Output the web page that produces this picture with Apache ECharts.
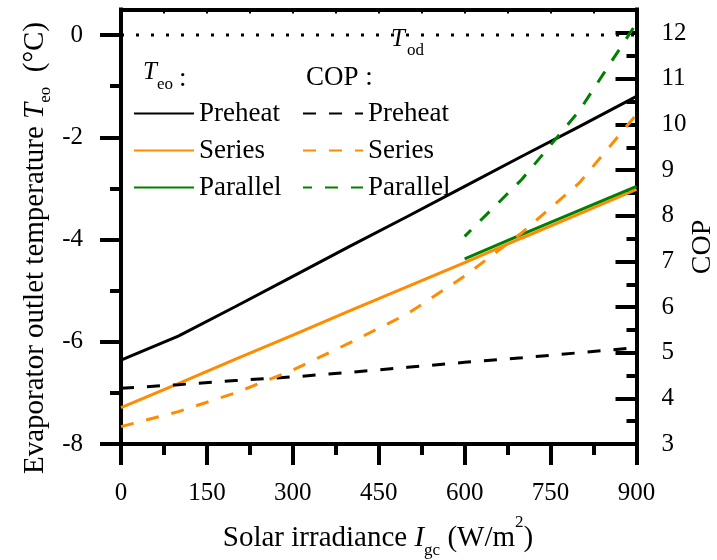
<!DOCTYPE html>
<html><head><meta charset="utf-8">
<script src="https://cdn.jsdelivr.net/npm/echarts@6/dist/echarts.min.js"></script>
<style>html,body{margin:0;padding:0;background:#fff}#c{width:717px;height:560px}</style>
</head><body><div id="c"></div>
<script>
// ---- data ----
const irradiance = [0, 100, 200, 300, 400, 500, 600, 700, 800, 900];
const irradianceParallel = [600, 700, 800, 900];
const teoPreheat = [-6.36, -5.89, -5.31, -4.72, -4.13, -3.55, -2.96, -2.37, -1.79, -1.20];
const teoSeries = [-7.29, -6.82, -6.34, -5.87, -5.39, -4.92, -4.45, -3.97, -3.50, -3.02];
const teoParallel = [-4.38, -3.90, -3.43, -2.96];
const copPreheat = [4.22, 4.30, 4.39, 4.47, 4.57, 4.68, 4.79, 4.89, 5.00, 5.11];
const copSeries = [3.38, 3.71, 4.12, 4.62, 5.22, 5.85, 6.68, 7.63, 8.72, 10.22];
const copParallel = [7.55, 8.80, 10.30, 12.22];
const todX = [0, 900];
const todY = [0, 0];
const teoMajorTicks = [-8, -6, -4, -2, 0];
const teoMinorTicks = [-7, -5, -3, -1];
const copMajorTicks = [3, 4, 5, 6, 7, 8, 9, 10, 11, 12];
const copMinorTicks = [3.5, 4.5, 5.5, 6.5, 7.5, 8.5, 9.5, 10.5, 11.5];

const F = '"Liberation Serif", "Times New Roman", serif';
const BLACK = '#000000', ORANGE = '#ff8c00', GREEN = '#008000';
const pairs = (xs, ys) => xs.map((x, i) => [x, ys[i]]);

const axisLineStyle = { color: BLACK, width: 4, cap: 'square' };
function yAxisBase(pos, min, max) {
  return {
    type: 'value', position: pos, min: min, max: max,
    axisLine: { show: true, onZero: false, lineStyle: axisLineStyle },
    splitLine: { show: false }, minorTick: { show: false }
  };
}

const chart = echarts.init(document.getElementById('c'), null, { renderer: 'canvas' });

const lineSeries = (name, xs, ys, yIdx, color, dashed, offset) => ({
  name: name, type: 'line', xAxisIndex: 0, yAxisIndex: yIdx,
  data: pairs(xs, ys), symbol: 'none', smooth: false,
  lineStyle: { color: color, width: 3, type: dashed ? [13, 13] : 'solid', dashOffset: offset || 0 },
  itemStyle: { color: color }, emphasis: { disabled: true }
});

const sub = { fontFamily: F, fontSize: 17, color: BLACK, padding: [25, 0, 0, 0] };
const main = { fontFamily: F, fontSize: 29, color: BLACK };
const ital = { fontFamily: F, fontSize: 29, fontStyle: 'italic', color: BLACK };
const sup = { fontFamily: F, fontSize: 17, color: BLACK, padding: [0, 0, 32, 0] };

const legendCommon = {
  orient: 'vertical', top: 100, itemWidth: 60, itemHeight: 14, itemGap: 10, padding: 0,
  selectedMode: false, formatter: n => n.slice(2),
  itemStyle: { opacity: 0 },
  textStyle: { fontFamily: F, fontSize: 27, color: BLACK, lineHeight: 24 }
};

chart.setOption({
  animation: false,
  backgroundColor: '#ffffff',
  grid: { left: 121, right: 80.5, top: 9.5, bottom: 116, containLabel: false, outerBoundsMode: 'none' },
  xAxis: [
    {
      type: 'value', position: 'bottom', min: 0, max: 900, interval: 150,
      axisLine: { show: true, onZero: false, lineStyle: axisLineStyle },
      axisTick: { show: true, inside: false, length: 21, lineStyle: { color: BLACK, width: 4 } },
      minorTick: { show: true, splitNumber: 2, length: 11, lineStyle: { color: BLACK, width: 4 } },
      axisLabel: { show: true, margin: 37, fontFamily: F, fontSize: 25, color: BLACK },
      splitLine: { show: false }, minorSplitLine: { show: false }
    },
    {
      type: 'value', position: 'top', min: 0, max: 900, interval: 75,
      axisLine: { show: true, onZero: false, lineStyle: axisLineStyle },
      axisTick: { show: true, inside: true, length: 4, lineStyle: { color: BLACK, width: 2 } },
      axisLabel: { show: false }, splitLine: { show: false }
    }
  ],
  yAxis: [
    Object.assign(yAxisBase('left', -8, 0.5), {
      axisTick: { show: true, inside: false, length: 21, customValues: teoMajorTicks, lineStyle: { color: BLACK, width: 4 } },
      axisLabel: { show: true, margin: 38, customValues: teoMajorTicks, fontFamily: F, fontSize: 25, color: BLACK }
    }),
    Object.assign(yAxisBase('left', -8, 0.5), {
      axisLine: { show: false, onZero: false },
      axisTick: { show: true, inside: false, length: 11, customValues: teoMinorTicks, lineStyle: { color: BLACK, width: 4 } },
      axisLabel: { show: false }
    }),
    Object.assign(yAxisBase('right', 3, 12.52), {
      axisTick: { show: true, inside: true, length: 21, customValues: copMajorTicks, lineStyle: { color: BLACK, width: 4 } },
      axisLabel: { show: true, margin: 25, customValues: copMajorTicks, fontFamily: F, fontSize: 25, color: BLACK }
    }),
    Object.assign(yAxisBase('right', 3, 12.52), {
      axisLine: { show: false, onZero: false },
      axisTick: { show: true, inside: true, length: 10, customValues: copMinorTicks, lineStyle: { color: BLACK, width: 4 } },
      axisLabel: { show: false }
    })
  ],
  legend: [
    Object.assign({}, legendCommon, { left: 133, data: ['T-Preheat', 'T-Series', 'T-Parallel'] }),
    Object.assign({}, legendCommon, { left: 302, data: ['C-Preheat', 'C-Series', 'C-Parallel'] })
  ],
  series: [
    {
      name: 'Tod', type: 'line', xAxisIndex: 0, yAxisIndex: 0, data: pairs(todX, todY), symbol: 'none',
      lineStyle: { color: BLACK, width: 3, type: [3, 12] }, emphasis: { disabled: true }, silent: true
    },
    lineSeries('T-Preheat', irradiance, teoPreheat, 0, BLACK, false),
    lineSeries('T-Series', irradiance, teoSeries, 0, ORANGE, false),
    lineSeries('T-Parallel', irradianceParallel, teoParallel, 0, GREEN, false),
    lineSeries('C-Preheat', irradiance, copPreheat, 2, BLACK, true),
    lineSeries('C-Series', irradiance, copSeries, 2, ORANGE, true),
    lineSeries('C-Parallel', irradianceParallel, copParallel, 2, GREEN, true, 4)
  ],
  graphic: [
    // x axis title
    { type: 'text', x: 378, y: 538.5, silent: true,
      style: { text: '{n|Solar irradiance }{i|I}{s|gc}{n| (W/m}{p|2}{n|)}', align: 'center', verticalAlign: 'middle',
        rich: { n: main, i: ital, s: sub, p: sup } } },
    // left axis title
    { type: 'text', x: 35, y: 248, rotation: Math.PI / 2, silent: true,
      style: { text: '{n|Evaporator outlet temperature }{i|T}{s|eo}{n|  (°C)}', align: 'center', verticalAlign: 'middle',
        rich: { n: main, i: ital, s: Object.assign({}, sub, { padding: [22, 0, 0, 0] }) } } },
    // right axis title
    { type: 'text', x: 703, y: 247, rotation: Math.PI / 2, silent: true,
      style: { text: 'COP', align: 'center', verticalAlign: 'middle', fontFamily: F, fontSize: 28, fill: BLACK } },
    // legend headers
    { type: 'text', x: 143, y: 72, silent: true,
      style: { text: 'T', align: 'left', verticalAlign: 'middle', fontFamily: F, fontSize: 25, fontStyle: 'italic', fill: BLACK } },
    { type: 'text', x: 157, y: 84.8, silent: true,
      style: { text: 'eo', align: 'left', verticalAlign: 'middle', fontFamily: F, fontSize: 17, fill: BLACK } },
    { type: 'text', x: 179, y: 79, silent: true,
      style: { text: ':', align: 'left', verticalAlign: 'middle', fontFamily: F, fontSize: 27, fill: BLACK } },
    { type: 'text', x: 306, y: 78, silent: true,
      style: { text: 'COP :', align: 'left', verticalAlign: 'middle', fontFamily: F, fontSize: 27, fill: BLACK } },
    // T_od label
    { type: 'text', x: 391, y: 39.5, silent: true,
      style: { text: 'T', align: 'left', verticalAlign: 'middle', fontFamily: F, fontSize: 25, fontStyle: 'italic', fill: BLACK } },
    { type: 'text', x: 407, y: 50.8, silent: true,
      style: { text: 'od', align: 'left', verticalAlign: 'middle', fontFamily: F, fontSize: 17, fill: BLACK } }
  ]
});
</script>
</body></html>
